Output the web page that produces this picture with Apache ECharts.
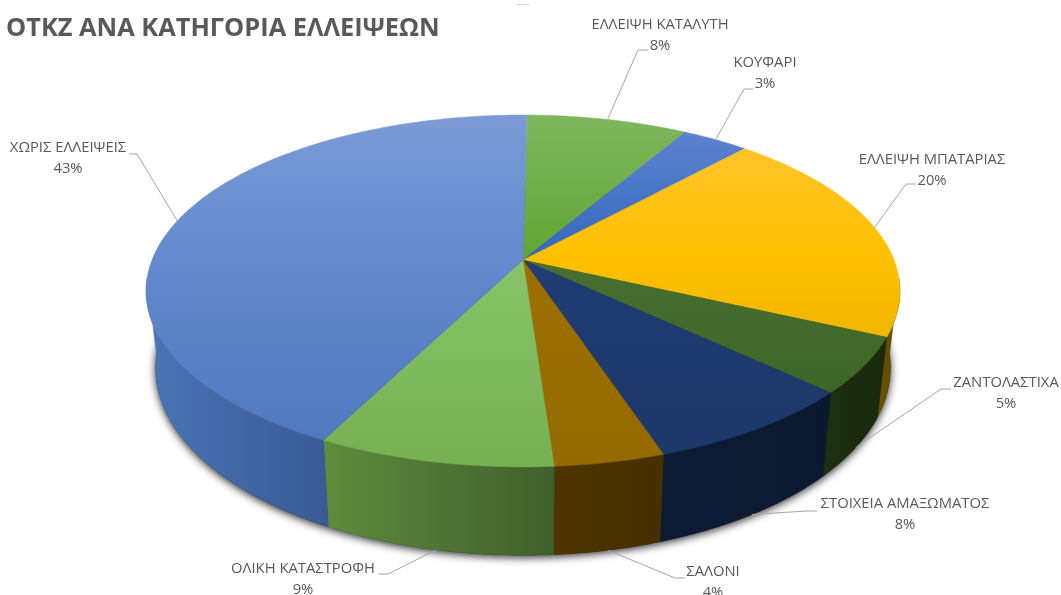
<!DOCTYPE html>
<html>
<head>
<meta charset="utf-8">
<title>ΟΤΚΖ ΑΝΑ ΚΑΤΗΓΟΡΙΑ ΕΛΛΕΙΨΕΩΝ</title>
<style>
  html, body { margin: 0; padding: 0; background: #fff; }
  #my-echarts { width: 1061px; height: 595px; }
</style>
<script src="https://cdn.jsdelivr.net/npm/echarts@6/dist/echarts.min.js"></script>
</head>
<body>
<div id="my-echarts"></div>
<script>
// data (slices run clockwise from 12 o'clock)
var categories = ['ΕΛΛΕΙΨΗ ΚΑΤΑΛΥΤΗ', 'ΚΟΥΦΑΡΙ', 'ΕΛΛΕΙΨΗ ΜΠΑΤΑΡΙΑΣ', 'ΖΑΝΤΟΛΑΣΤΙΧΑ', 'ΣΤΟΙΧΕΙΑ ΑΜΑΞΩΜΑΤΟΣ', 'ΣΑΛΟΝΙ', 'ΟΛΙΚΗ ΚΑΤΑΣΤΡΟΦΗ', 'ΧΩΡΙΣ ΕΛΛΕΙΨΕΙΣ'];
var values = [8.2, 3.4, 20.1, 5.1, 7.9, 4.0, 8.6, 42.7];

// top face colours: top of the gradient, middle, bottom
var topColors = [
  ['#7fb65f', '#62a635', '#5ca02c'],
  ['#6286d0', '#3568c0', '#3366bb'],
  ['#fcc536', '#ffc000', '#d6a800'],
  ['#7d9a6c', '#486f31', '#38601f'],
  ['#4d6390', '#1f3c74', '#1c3868'],
  ['#c09a4e', '#9d7000', '#946a00'],
  ['#9fd083', '#8ac46a', '#76b052'],
  ['#7c9bd6', '#648acf', '#4c76bc']
];
// side wall colours: left, right
var wallColors = [
  ['#4f7a2c', '#3f6323'],
  ['#2a4d8a', '#234070'],
  ['#6b5400', '#5a4700'],
  ['#1d300f', '#18290c'],
  ['#0c1a34', '#0b1930'],
  ['#4e3500', '#463000'],
  ['#5f8c3e', '#3f5f2c'],
  ['#4a75b6', '#3a5a94']
];
// label centre, elbow of the leader line, and which rim the line ends on
var labelLayout = [
  { x: 660, y: 25, ex: 638, ey: 50, tx: 648, rim: 'top' },
  { x: 765, y: 63, ex: 744, ey: 89, tx: 753, rim: 'top' },
  { x: 932, y: 160, ex: 906, ey: 184, tx: 916, rim: 'top' },
  { x: 1006, y: 383, ex: 941, ey: 389, tx: 951, rim: 'bottom' },
  { x: 905, y: 504, ex: 806, ey: 511, tx: 817, rim: 'bottom' },
  { x: 713, y: 572, ex: 675, ey: 578, tx: 685, rim: 'bottom' },
  { x: 303, y: 569, ex: 388, ey: 574, tx: 378, rim: 'bottom' },
  { x: 68, y: 148, ex: 137, ey: 154, tx: 129, rim: 'top' }
];

// perspective of the disc
var apexX = 523, apexY = 260, rX = 371, rY = 170.5, kY = 0.176;
var floorY = 335, floorRY = 181.5, floorScale = 0.975;
var startDeg = 0.7;

function project(deg, floor) {
  var a = deg * Math.PI / 180;
  var u = Math.sin(a), v = -Math.cos(a);
  var w = 1 - kY * v;
  if (floor) {
    return [apexX + floorScale * rX * u / w, floorY + floorRY * v / w];
  }
  return [apexX + rX * u / w, apexY + rY * v / w];
}

function arc(from, to, floor) {
  var pts = [], n = Math.max(2, Math.ceil(Math.abs(to - from)));
  for (var i = 0; i <= n; i++) {
    pts.push(project(from + (to - from) * i / n, floor));
  }
  return pts;
}

var total = 0;
values.forEach(function (v) { total += v; });

var sliceData = [];
var cum = 0;
values.forEach(function (v, i) {
  var from = startDeg + cum / total * 360;
  cum += v;
  var to = startDeg + cum / total * 360;
  sliceData.push({ name: categories[i], value: [from, to, i, v] });
});

function renderShadow(params, api) {
  if (params.dataIndex !== 0) return null;
  return {
    type: 'polygon',
    shape: { points: arc(0, 360, true) },
    style: {
      fill: '#222',
      shadowBlur: 9,
      shadowColor: 'rgba(0,0,0,0.85)',
      shadowOffsetY: 2
    },
    silent: true
  };
}

function renderWall(params, api) {
  var from = Math.max(api.value(0), 96), to = Math.min(api.value(1), 264);
  if (to <= from) return null;
  var i = api.value(2);
  var pts = arc(from, to, false).concat(arc(to, from, true));
  var xs = pts.map(function (p) { return p[0]; });
  var fill = {
    type: 'linear', global: true,
    x: Math.min.apply(null, xs), y: 0, x2: Math.max.apply(null, xs), y2: 0,
    colorStops: [
      { offset: 0, color: wallColors[i][0] },
      { offset: 1, color: wallColors[i][1] }
    ]
  };
  return { type: 'polygon', shape: { points: pts }, style: { fill: fill, stroke: fill, lineWidth: 0.5 } };
}

function renderTop(params, api) {
  var i = api.value(2);
  var pts = [[apexX, apexY]].concat(arc(api.value(0), api.value(1), false));
  var fill = {
    type: 'linear', global: true,
    x: 0, y: 115, x2: 0, y2: 467,
    colorStops: [
      { offset: 0, color: topColors[i][0] },
      { offset: 0.4, color: topColors[i][1] },
      { offset: 1, color: topColors[i][2] }
    ]
  };
  return { type: 'polygon', shape: { points: pts }, style: { fill: fill, stroke: fill, lineWidth: 0.5 } };
}

function renderLabel(params, api) {
  var i = api.value(2);
  var mid = (api.value(0) + api.value(1)) / 2;
  var l = labelLayout[i];
  var end = project(mid, l.rim === 'bottom');
  var textStyle = { fill: '#595959', fontSize: 14.8, fontFamily: '"Open Sans", "Noto Sans", sans-serif', align: 'center', verticalAlign: 'middle' };
  return {
    type: 'group',
    children: [
      {
        type: 'polyline',
        shape: { points: [[l.tx, l.ey], [l.ex, l.ey], end] },
        style: { fill: null, stroke: '#a6a6a6', lineWidth: 1 }
      },
      { type: 'text', style: Object.assign({ text: categories[i], x: l.x, y: l.y }, textStyle) },
      { type: 'text', style: Object.assign({ text: Math.round(api.value(3)) + '%', x: l.x, y: l.y + 21 }, textStyle) }
    ]
  };
}

var chart = echarts.init(document.getElementById('my-echarts'));
var option = {
  animation: false,
  backgroundColor: '#fff',
  title: {
    text: 'ΟΤΚΖ ΑΝΑ ΚΑΤΗΓΟΡΙΑ ΕΛΛΕΙΨΕΩΝ',
    left: 1,
    top: 11,
    textStyle: { color: '#595959', fontSize: 25.4, fontWeight: 'bold', fontFamily: '"Open Sans", "Noto Sans", sans-serif' }
  },
  graphic: [
    { type: 'line', shape: { x1: 517, y1: 4.5, x2: 530, y2: 4.5 }, style: { stroke: '#d9d9d9', lineWidth: 1 }, silent: true }
  ],
  series: [
    { type: 'custom', name: 'shadow', coordinateSystem: 'none', renderItem: renderShadow, data: sliceData, z: 1, silent: true },
    { type: 'custom', name: 'walls', coordinateSystem: 'none', renderItem: renderWall, data: sliceData, z: 2 },
    { type: 'custom', name: 'faces', coordinateSystem: 'none', renderItem: renderTop, data: sliceData, z: 3 },
    { type: 'custom', name: 'labels', coordinateSystem: 'none', renderItem: renderLabel, data: sliceData, z: 4, silent: true }
  ]
};
chart.setOption(option);
</script>
</body>
</html>
